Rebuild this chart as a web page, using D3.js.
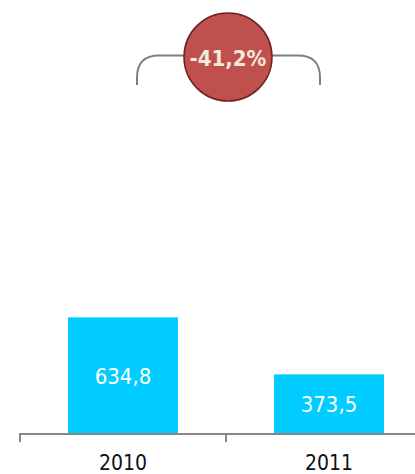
<!DOCTYPE html>
<html>
<head>
<meta charset="utf-8">
<script src="https://cdn.jsdelivr.net/npm/d3@7"></script>
<style>
  html, body { margin: 0; padding: 0; background: #ffffff; }
  svg { display: block; }
  text { font-family: "DejaVu Sans Condensed", "DejaVu Sans", sans-serif; font-stretch: condensed; }
</style>
</head>
<body>
<svg id="chart" width="415" height="474"></svg>
<script>
// Yearly totals
const years = ["2010", "2011"];
const totals = [634.8, 373.5];

const W = 415, H = 474;
const baseY = 434;
const svg = d3.select("#chart");

// Decimal comma, plain hyphen for negatives
const fmt = v => d3.format(".1f")(v).replace(".", ",").replace("\u2212", "-");

// Category bands: one band per year, boundaries carry the tick marks
const x = d3.scaleBand().domain(years).range([20, 432]).padding(0);
const barW = x.bandwidth() * 0.534;

// Value axis starts above zero
const y = d3.scaleLinear().domain([100, 1000]).range([baseY, 237.7]);

const data = years.map((yr, i) => ({ year: yr, value: totals[i] }));

// Bars
svg.append("g").selectAll("rect").data(data).join("rect")
  .attr("x", d => x(d.year) + (x.bandwidth() - barW) / 2)
  .attr("y", d => y(d.value))
  .attr("width", barW)
  .attr("height", d => baseY - y(d.value))
  .attr("fill", "#00ccff");

// Value labels inside bars
svg.append("g").selectAll("text").data(data).join("text")
  .attr("x", d => x(d.year) + x.bandwidth() / 2)
  .attr("y", d => (y(d.value) + baseY) / 2 + 8)
  .attr("text-anchor", "middle")
  .attr("fill", "#ffffff")
  .attr("font-size", 22)
  .text(d => fmt(d.value));

// Category axis with ticks at band boundaries
const axis = svg.append("g").attr("stroke", "#878787").attr("stroke-width", 2).attr("fill", "none");
axis.append("line").attr("x1", 20).attr("x2", 432).attr("y1", baseY).attr("y2", baseY);
const bounds = years.map(d => x(d)).concat([x(years[years.length - 1]) + x.bandwidth()]);
axis.selectAll("line.tick").data(bounds).join("line").attr("class", "tick")
  .attr("x1", d => d).attr("x2", d => d)
  .attr("y1", baseY - 1).attr("y2", baseY + 8);

svg.append("g").selectAll("text").data(years).join("text")
  .attr("x", d => x(d) + x.bandwidth() / 2)
  .attr("y", 469.5)
  .attr("text-anchor", "middle")
  .attr("fill", "#111111")
  .attr("font-size", 21)
  .text(d => d);

// Change bracket and bubble
const change = (totals[1] - totals[0]) / totals[0] * 100;
const c1 = x(years[0]) + x.bandwidth() / 2, c2 = x(years[1]) + x.bandwidth() / 2;
const cx = (c1 + c2) / 2 + 2, cy = 57, r = 44;
const lx = c1 + 14, rx = c2 - 9, topY = 55.5, endY = 85, rad = 22;

const bracket = d3.path();
bracket.moveTo(lx, endY);
bracket.lineTo(lx, topY + rad);
bracket.quadraticCurveTo(lx, topY, lx + rad, topY);
bracket.lineTo(rx - rad, topY);
bracket.quadraticCurveTo(rx, topY, rx, topY + rad);
bracket.lineTo(rx, endY);

svg.append("path")
  .attr("d", bracket.toString())
  .attr("fill", "none")
  .attr("stroke", "#808080")
  .attr("stroke-width", 2);

svg.append("circle")
  .attr("cx", cx).attr("cy", cy).attr("r", r)
  .attr("fill", "#c0504d")
  .attr("stroke", "#6e2422")
  .attr("stroke-width", 1.5);

svg.append("text")
  .attr("x", cx).attr("y", 66)
  .attr("text-anchor", "middle")
  .attr("fill", "#f3e9dc")
  .attr("font-size", 22)
  .attr("font-weight", "bold")
  .text(fmt(change) + "%");
</script>
</body>
</html>
